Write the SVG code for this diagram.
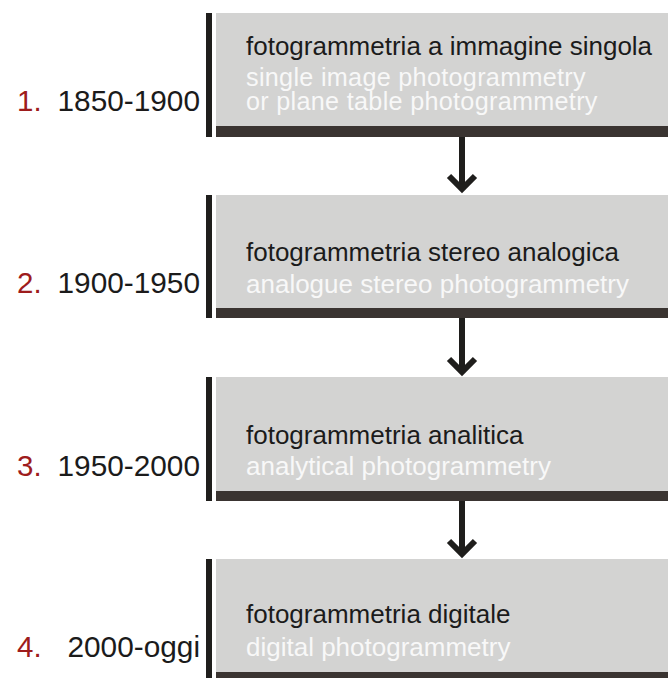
<svg xmlns="http://www.w3.org/2000/svg" width="668" height="678" viewBox="0 0 668 678">
  <style>
    .spine { fill: #1f1e1c; }
    .panel { fill: #d3d3d2; }
    .base { fill: #3a3431; }
    text { font-family: "Liberation Sans", Arial, Helvetica, sans-serif; }
    .title { font-size: 26px; fill: #1b1b1b; }
    .sub { font-size: 26px; fill: #f8f8f8; }
    .sub.tight { font-size: 25.2px; letter-spacing: 0.3px; }
    .num { font-size: 29.5px; fill: #9e1c1c; }
    .year { font-size: 29.8px; fill: #1b1b1b; text-anchor: end; }
    .link { fill: none; stroke: #1f1e1c; stroke-width: 6; }
    .head { fill: none; stroke: #1f1e1c; stroke-width: 6; stroke-linejoin: miter; stroke-miterlimit: 4; }
  </style>

  <!-- phase 1 -->
  <g id="phase-1">
    <rect class="spine" x="206" y="13" width="6" height="124"/>
    <rect class="panel" x="216" y="13" width="452" height="113"/>
    <rect class="base" x="216" y="126" width="452" height="11"/>
    <text class="title" x="246" y="55">fotogrammetria a immagine singola</text>
    <text class="sub tight" x="246" y="86">single image photogrammetry</text>
    <text class="sub tight" x="246" y="110">or plane table photogrammetry</text>
    <text class="num" x="17" y="111">1.</text>
    <text class="year" x="200" y="111">1850-1900</text>
  </g>

  <!-- phase 2 -->
  <g id="phase-2">
    <rect class="spine" x="206" y="195" width="6" height="123"/>
    <rect class="panel" x="216" y="195" width="452" height="113"/>
    <rect class="base" x="216" y="308" width="452" height="10"/>
    <text class="title" x="246" y="260.5">fotogrammetria stereo analogica</text>
    <text class="sub" x="246" y="292.5">analogue stereo photogrammetry</text>
    <text class="num" x="17" y="293">2.</text>
    <text class="year" x="200" y="293">1900-1950</text>
  </g>

  <!-- phase 3 -->
  <g id="phase-3">
    <rect class="spine" x="206" y="377" width="6" height="124"/>
    <rect class="panel" x="216" y="377" width="452" height="114"/>
    <rect class="base" x="216" y="491" width="452" height="10"/>
    <text class="title" x="246" y="443.5">fotogrammetria analitica</text>
    <text class="sub" x="246" y="475">analytical photogrammetry</text>
    <text class="num" x="17" y="476">3.</text>
    <text class="year" x="200" y="476">1950-2000</text>
  </g>

  <!-- phase 4 -->
  <g id="phase-4">
    <rect class="spine" x="206" y="559" width="6" height="119"/>
    <rect class="panel" x="216" y="559" width="452" height="113"/>
    <rect class="base" x="216" y="672" width="452" height="6"/>
    <text class="title" x="246" y="623">fotogrammetria digitale</text>
    <text class="sub" x="246" y="656">digital photogrammetry</text>
    <text class="num" x="17" y="657">4.</text>
    <text class="year" x="200" y="657">2000-oggi</text>
  </g>

  <!-- arrows between phases -->
  <g id="connectors">
    <line class="link" x1="462" y1="137" x2="462" y2="189"/>
    <polyline class="head" points="449,176 462,189 475,176"/>
    <line class="link" x1="462" y1="318" x2="462" y2="372"/>
    <polyline class="head" points="449,359 462,372 475,359"/>
    <line class="link" x1="462" y1="501" x2="462" y2="554"/>
    <polyline class="head" points="449,541 462,554 475,541"/>
  </g>
</svg>
